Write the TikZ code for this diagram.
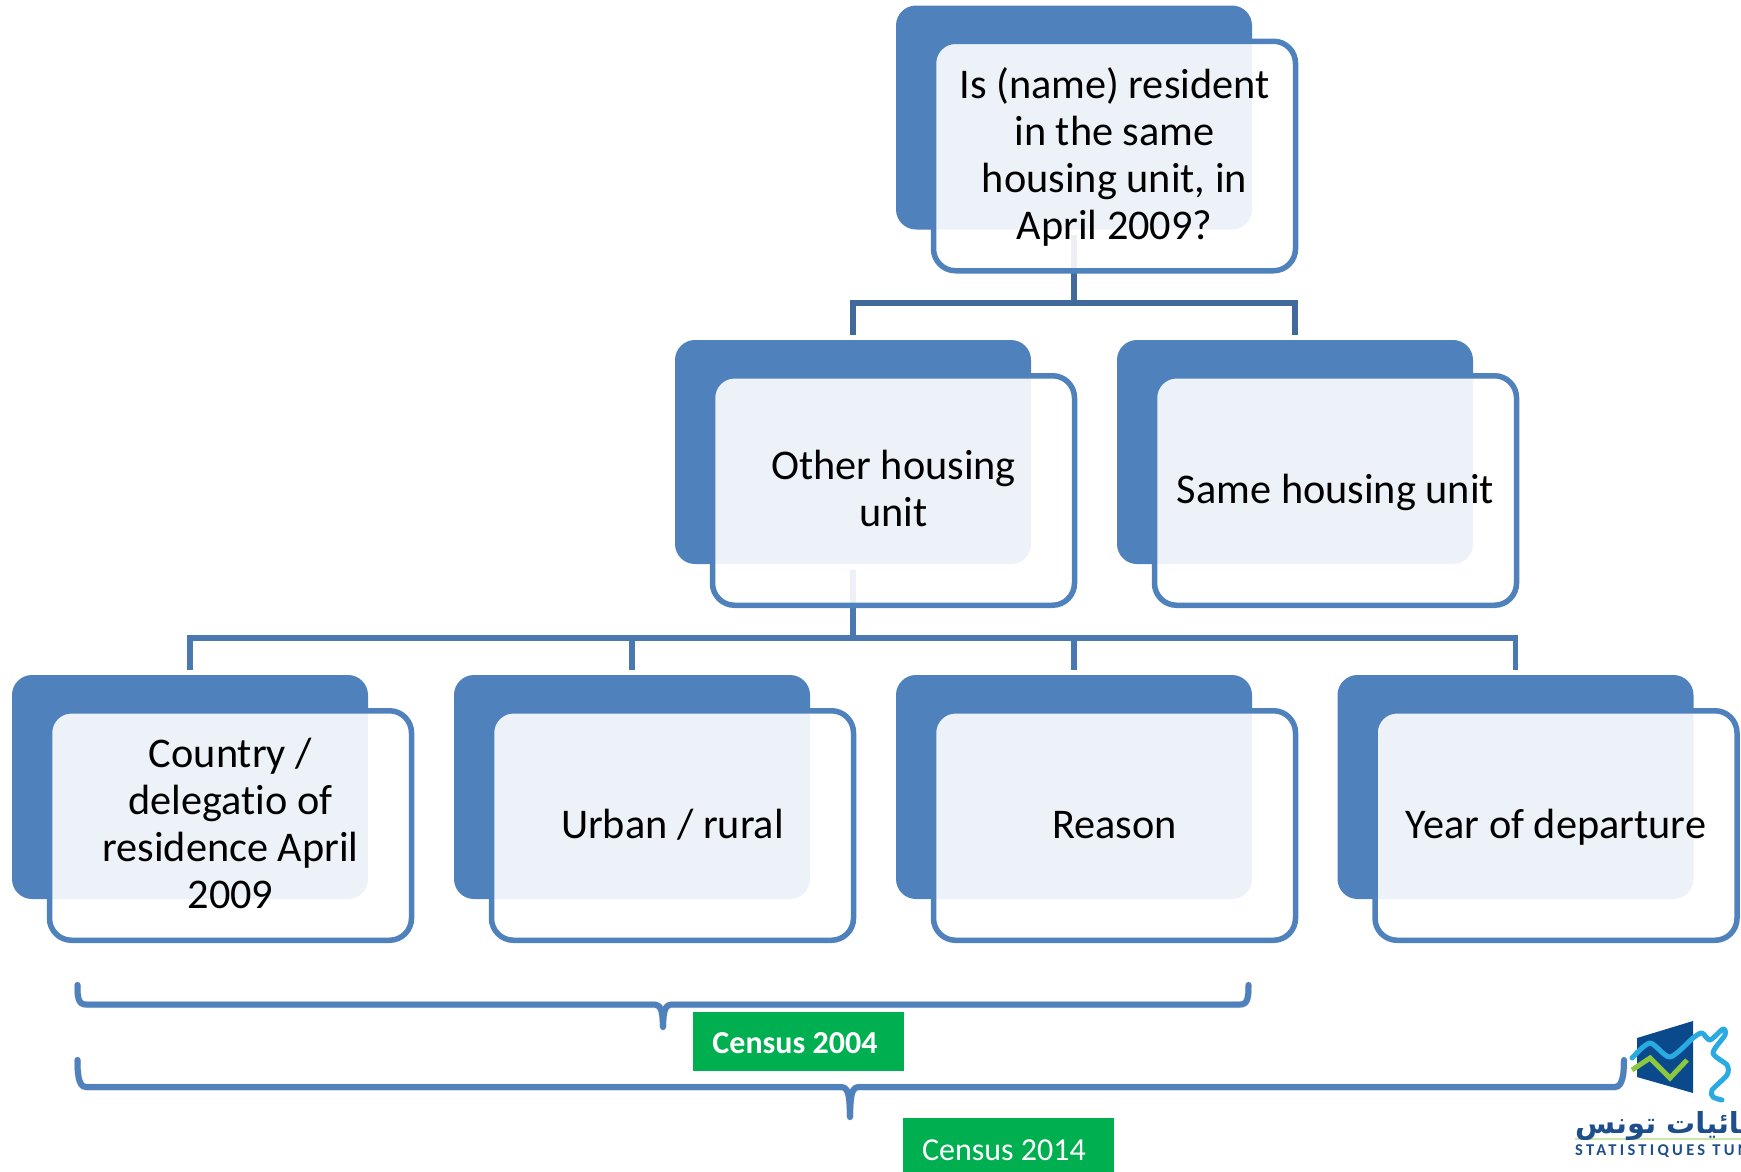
\documentclass[tikz,border=0pt]{standalone}
\usepackage{fontspec}
\setmainfont[Ligatures=NoCommon]{Carlito}
\newfontfamily\arabicfont[Script=Arabic]{DejaVu Sans}
\newfontfamily\logofont[LetterSpace=20]{Carlito}
\TeXXeTstate=1
\definecolor{boxblue}{HTML}{4F81BD}
\definecolor{connA}{HTML}{41699B}
\definecolor{connB}{HTML}{4A78B0}
\definecolor{censusgreen}{HTML}{00B050}
\definecolor{logonavy}{HTML}{0A4A8C}
\definecolor{logosky}{HTML}{29ABE2}
\definecolor{logolime}{HTML}{8DC63F}
\definecolor{logotext}{HTML}{1F4E8C}
\tikzset{
  backbox/.style={rectangle,rounded corners=20pt,fill=boxblue,minimum width=356pt,minimum height=224pt,inner sep=0pt,outer sep=0pt},
  frontbox/.style={rectangle,rounded corners=22pt,draw=boxblue,line width=5.5pt,fill=white,fill opacity=.9,text opacity=1,text=black,minimum width=362pt,minimum height=229.5pt,inner sep=0pt,outer sep=0pt,align=center,font=\fontsize{42.3}{47}\selectfont},
  connline/.style={line width=5.5pt},
  bracketline/.style={draw=boxblue,line width=6pt,line cap=round},
  bracketshadow/.style={draw=black!60,opacity=.18,line width=7pt,line cap=round},
  censusbox/.style={rectangle,fill=censusgreen,text=white,inner sep=0pt,outer sep=0pt,text depth=0pt},
}
\newcommand{\backat}[3]{\node[backbox] (b#1) at (#2+178,#3+112.5) {};}
\newcommand{\frontat}[4]{\node[frontbox] (f#1) at (#2+218.5,#3+151) {\rule{0pt}{39.5pt}#4\strut};}
\newcommand{\bracketpath}[5]{% top-left, bar-left, tip, bar-right, top-right names
  (#1) .. controls ($(#1)+(0,12)$) and ($(#2)+(0,0)$) .. ($(#2)+(8,0)$)
  -- ($(#3|-#2)+(-10,0)$) .. controls ($(#3|-#2)+(-2,0)$) and ($(#3|-#2)+(-.5,5)$) .. (#3)
  (#3) .. controls ($(#3|-#2)+(.5,5)$) and ($(#3|-#2)+(2,0)$) .. ($(#3|-#2)+(10,0)$)
  -- ($(#4)+(-8,0)$) .. controls ($(#4)+(0,0)$) and ($(#5)+(0,12)$) .. (#5)}
\usetikzlibrary{calc}
\begin{document}
\begin{tikzpicture}[x=1pt,y=-1pt]
\useasboundingbox (0,0) rectangle (1741,1171);
\begin{scope}
\clip (0,0) rectangle (1741,1171);
% back panels
\backat{r}{896}{5}
\backat{o}{675}{339.5}
\backat{s}{1117}{339.5}
\backat{c}{12}{674.5}
\backat{u}{454}{674.5}
\backat{e}{896}{674.5}
\backat{y}{1337.5}{674.5}
% connectors
\coordinate (barA) at (1073,303);
\coordinate (barB) at (853,638);
\draw[connline,draw=connA] ([yshift=-5pt]br.south) -- (br.south|-barA) -| ([yshift=5pt]bo.north);
\draw[connline,draw=connA] (br.south|-barA) -| ([yshift=5pt]bs.north);
\draw[connline,draw=connB] ([yshift=-6pt]bo.south) -- (bo.south|-barB) -| ([yshift=5.5pt]bc.north);
\draw[connline,draw=connB] (bo.south|-barB) -| ([yshift=5.5pt]bu.north);
\draw[connline,draw=connB] (bo.south|-barB) -| ([yshift=5.5pt]be.north);
\draw[connline,draw=connB] (bo.south|-barB) -| ([yshift=5.5pt]by.north);
% front panels
\frontat{r}{896}{5}{Is (name) resident\\in the same\\housing unit, in\\April 2009?}
\frontat{o}{675}{339.5}{Other housing\\unit}
\frontat{s}{1117}{339.5}{Same housing unit}
\frontat{c}{12}{674.5}{Country /\\delegatio of\\residence April\\2009}
\frontat{u}{454}{674.5}{Urban / rural}
\frontat{e}{896}{674.5}{Reason}
\frontat{y}{1337.5}{674.5}{Year of departure}
% brackets
\coordinate (aTL) at (77.5,985);
\coordinate (aBL) at (78,1004.5);
\coordinate (aTip) at (663,1027);
\coordinate (aBR) at (1248,1004.5);
\coordinate (aTR) at (1248.5,985);
\coordinate (bTL) at (77.5,1060);
\coordinate (bBL) at (78,1087);
\coordinate (bTip) at (850,1117);
\coordinate (bBR) at (1623,1087);
\coordinate (bTR) at (1624,1060);
\begin{scope}[shift={(1.5,3.5)}]
\draw[bracketshadow] \bracketpath{aTL}{aBL}{aTip}{aBR}{aTR};
\draw[bracketshadow] \bracketpath{bTL}{bBL}{bTip}{bBR}{bTR};
\end{scope}
\node[censusbox,text height=23pt,minimum width=211pt,minimum height=59pt] (c04) at (798.5,1041.5) {\fontsize{32}{36}\selectfont\bfseries Census 2004\kern 7pt};
\node[censusbox,text height=31pt,minimum width=211pt,minimum height=54pt] (c14) at (1008.5,1144.5) {\fontsize{32}{36}\selectfont Census 2014\kern 9pt};
\draw[bracketline] \bracketpath{aTL}{aBL}{aTip}{aBR}{aTR};
\draw[bracketline] \bracketpath{bTL}{bBL}{bTip}{bBR}{bTR};
% logo
\fill[logonavy] (1637,1038) -- (1693,1021) -- (1693,1093) -- (1637,1077) -- cycle;
\draw[logosky,line width=5pt,line join=round,line cap=round] plot[smooth,tension=.45] coordinates {(1632,1058) (1650,1043) (1670,1057) (1693,1038) (1702,1033) (1710,1040) (1723,1029) (1725,1035) (1713,1053) (1727,1065) (1727,1075) (1712,1090) (1713,1097) (1722,1100)};
\draw[logolime,line width=5pt,line join=miter] (1632,1070) -- (1650,1058) -- (1670,1078) -- (1687,1060);
\fill[logolime!45] (1575,1138) rectangle (1741,1140);
\node[anchor=west,inner sep=0pt,text=logotext] (logoar) at (1575,1126) {\arabicfont\bfseries\fontsize{29}{34}\selectfont\beginR إحصائيات تونس\endR};
\node[anchor=west,inner sep=0pt,text=logotext] (logola) at (1575,1151.5) {\logofont\bfseries\fontsize{16.5}{20}\selectfont STATISTIQUES TUNISIE};
\end{scope}
\end{tikzpicture}
\end{document}
